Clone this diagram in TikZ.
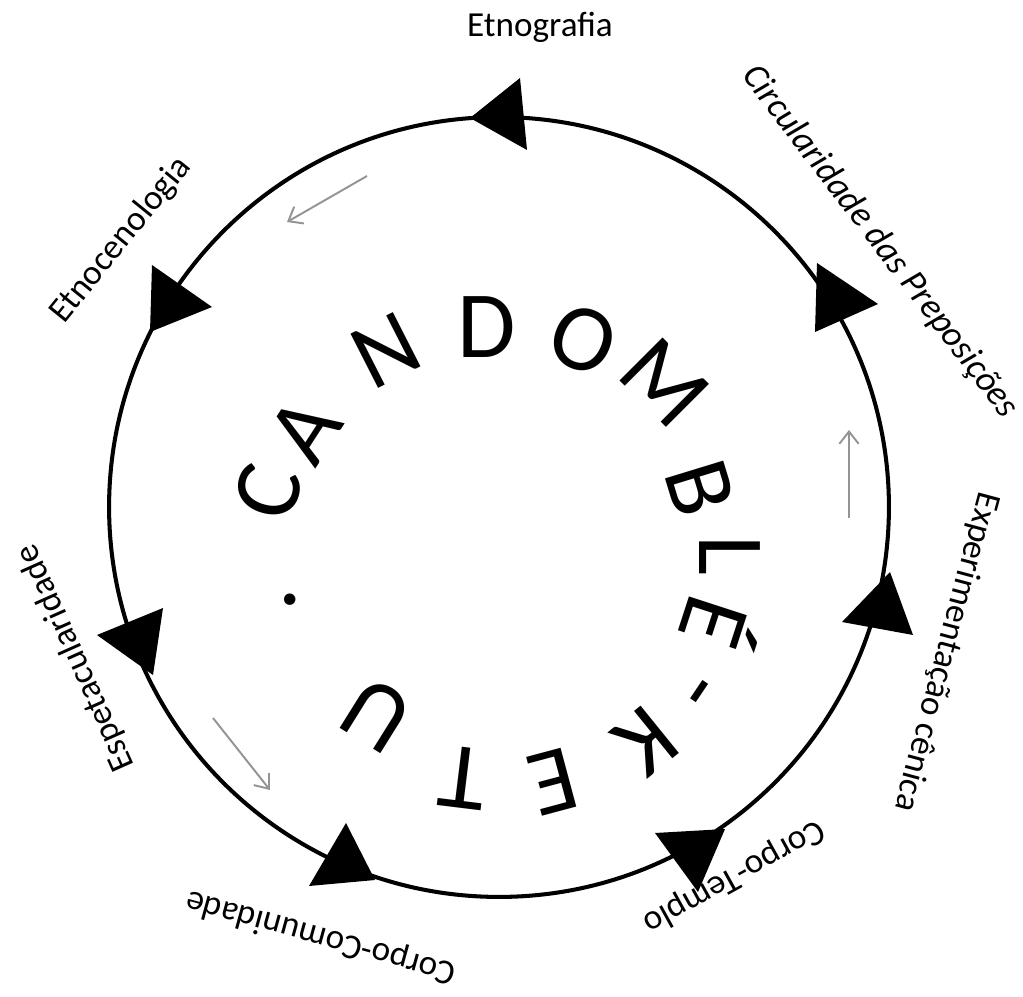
\documentclass[tikz,border=0pt]{standalone}
\usepackage{fontspec}
\setmainfont{Carlito}
\usetikzlibrary{arrows.meta}
\begin{document}
\begin{tikzpicture}[x=0.02cm,y=-0.02cm,
  ring/.style={line width=2.3pt},
  tri/.style={fill=black},
  hint/.style={draw=black!42,line width=1.1pt,-{Straight Barb[length=7pt,width=11pt]}},
  lab/.style={font=\fontsize{20}{22}\selectfont,inner sep=0pt},
  labit/.style={font=\fontsize{20.5}{22}\selectfont\itshape,inner sep=0pt},
  big/.style={font=\fontsize{54}{60}\selectfont,inner sep=0pt}]
\useasboundingbox (0,0) rectangle (1023,996);
\coordinate (o) at (499,507);
\draw[ring] (o) circle[radius=7.8cm];
\fill[tri] (470,118) -- (520,78) -- (527,150) -- cycle;
\fill[tri] (817,263) -- (878,304) -- (815,332) -- cycle;
\fill[tri] (890,572) -- (842,622) -- (913,635) -- cycle;
\fill[tri] (655,833) -- (725,829) -- (698,892) -- cycle;
\fill[tri] (346,823) -- (309,886) -- (375,880) -- cycle;
\fill[tri] (97,635) -- (163,608) -- (153,675) -- cycle;
\fill[tri] (152,265) -- (212,307) -- (150,332) -- cycle;
\draw[hint] (367,176) -- (287,222);
\draw[hint] (849,518) -- (849,430);
\draw[hint] (213,718) -- (270,790);
\foreach \ch/\x/\y/\r [count=\i] in {C/268/492/74, A/305/430/57, N/386/350/27,
    D/487/327/0, O/583/340/-23, M/665/383/-45, B/700/488/-73, L/730/555/-90,
    É/722/625/-108, -/690/685/-124, K/645/742/-141, E/553/782/-165,
    T/463/778/-187, U/377/715/-212, ./290/600/-240}
  \node[big,rotate=\r] (let\i) at (\x,\y) {\ch};
\node[lab] (etnografia) at (540,27) {Etnografia};
\node[labit,rotate=-52.7] (circularidade) at (880,242) {Circularidade das Preposições};
\node[lab,rotate=-105] (experimentacao) at (946,652) {Experimentação cênica};
\node[lab,rotate=-151] (templo) at (734,877) {Corpo-Templo};
\node[lab,rotate=164.6] (comunidade) at (321,937) {Corpo-Comunidade};
\node[lab,rotate=114] (espetacularidade) at (76,658) {Espetacularidade};
\node[lab,rotate=51] (etnocenologia) at (121,240) {Etnocenologia};
\end{tikzpicture}
\end{document}
